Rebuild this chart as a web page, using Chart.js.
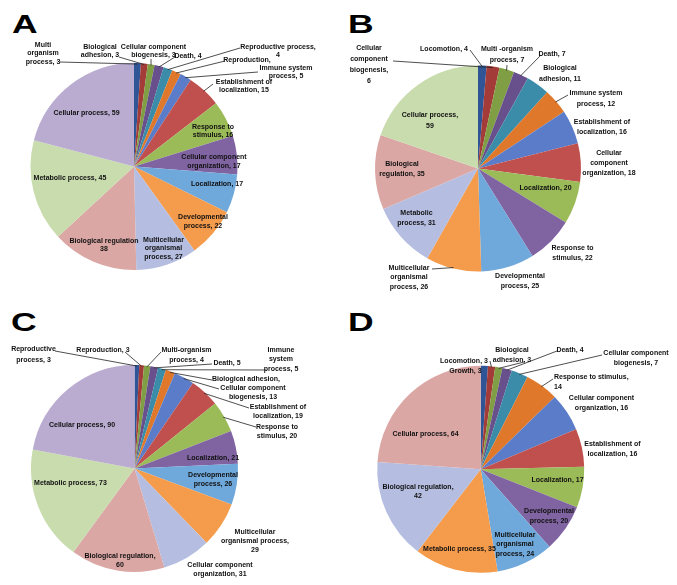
<!DOCTYPE html>
<html>
<head>
<meta charset="utf-8">
<script src="https://cdn.jsdelivr.net/npm/chart.js@4.4.0/dist/chart.umd.min.js"></script>
<style>
  body { margin: 0; background: #fff; }
  #wrap { position: relative; width: 677px; height: 585px; overflow: hidden; }
  canvas { position: absolute; }
  .tag { position: absolute; font: bold 25px "Liberation Sans", Arial, sans-serif; line-height: 25px;
         transform-origin: 0 0; transform: scaleX(1.42); color: #000; }
</style>
</head>
<body>
<div id="wrap">
  <div class="tag" style="left:12px;top:11.7px">A</div>
  <div class="tag" style="left:348px;top:11.7px">B</div>
  <div class="tag" style="left:11px;top:309.7px">C</div>
  <div class="tag" style="left:348px;top:309.7px">D</div>
  <canvas id="pieA" width="340" height="292" style="left:0;top:0"></canvas>
  <canvas id="pieB" width="337" height="292" style="left:340px;top:0"></canvas>
  <canvas id="pieC" width="340" height="293" style="left:0;top:292px"></canvas>
  <canvas id="pieD" width="337" height="293" style="left:340px;top:292px"></canvas>
</div>
<script>
// data
const catsA = ['Multi organism process', 'Biological adhesion', 'Cellular component biogenesis', 'Death',
  'Reproductive process', 'Reproduction', 'Immune system process', 'Establishment of localization',
  'Response to stimulus', 'Cellular component organization', 'Localization', 'Developmental process',
  'Multicellular organismal process', 'Biological regulation', 'Metabolic process', 'Cellular process'];
const valsA = [3, 3, 3, 4, 4, 4, 5, 15, 16, 17, 17, 22, 27, 38, 45, 59];

const catsB = ['Locomotion', 'Cellular component biogenesis', 'Multi-organism process', 'Death',
  'Biological adhesion', 'Immune system process', 'Establishment of localization',
  'Cellular component organization', 'Localization', 'Response to stimulus', 'Developmental process',
  'Multicellular organismal process', 'Metabolic process', 'Biological regulation', 'Cellular process'];
const valsB = [4, 6, 7, 7, 11, 12, 16, 18, 20, 22, 25, 26, 31, 35, 59];

const catsC = ['Reproductive process', 'Reproduction', 'Multi-organism process', 'Death',
  'Immune system process', 'Biological adhesion', 'Cellular component biogenesis',
  'Establishment of localization', 'Response to stimulus', 'Localization', 'Developmental process',
  'Multicellular organismal process', 'Cellular component organization', 'Biological regulation',
  'Metabolic process', 'Cellular process'];
const valsC = [3, 3, 4, 5, 5, 6, 13, 19, 20, 21, 26, 29, 31, 60, 73, 90];

const catsD = ['Growth', 'Locomotion', 'Biological adhesion', 'Death', 'Cellular component biogenesis',
  'Response to stimulus', 'Cellular component organization', 'Establishment of localization',
  'Localization', 'Developmental process', 'Multicellular organismal process', 'Metabolic process',
  'Biological regulation', 'Cellular process'];
const valsD = [3, 3, 3, 4, 7, 14, 16, 16, 17, 20, 24, 35, 42, 64];

// slice colours (Office palette: darker, normal, lighter)
const colors = ['#2F5597', '#A33B38', '#809F44', '#67508C', '#3A8CA8', '#E0782B',
  '#5B7CC9', '#C0504D', '#9BBB59', '#8064A2', '#6FA8DA', '#F59B4C',
  '#B5BEE1', '#DBA7A5', '#C9DCAE', '#B9ACD0'];

// label text and placement (page coords), {v} = slice value, | = line break
const layoutA = [
  { t: 'Multi|organism|process, {v}', x: 43, y: 45, lx: 60, ly: 62 },
  { t: 'Biological|adhesion, {v}', x: 100, y: 46.7, lx: 119, ly: 57 },
  { t: 'Cellular component|biogenesis, {v}', x: 153.5, y: 46.7, lx: 151, ly: 59 },
  { t: 'Death, {v}', x: 188, y: 56, lx: 175, ly: 57 },
  { t: 'Reproductive process,|{v}', x: 278, y: 46.7, lx: 240, ly: 48 },
  { t: 'Reproduction,', x: 247, y: 60, lx: 225, ly: 61 },
  { t: 'Immune system|process, {v}', x: 286, y: 67.7, lx: 258, ly: 72 },
  { t: 'Establishment of|localization, {v}', x: 244, y: 81.7, lx: 213, ly: 84 },
  { t: 'Response to|stimulus, {v}', x: 213, y: 126.7 },
  { t: 'Cellular component|organization, {v}', x: 214, y: 157.3 },
  { t: 'Localization, {v}', x: 217, y: 184.3 },
  { t: 'Developmental|process, {v}', x: 203, y: 217.3 },
  { t: 'Multicellular|organismal|process, {v}', x: 163.5, y: 240 },
  { t: 'Biological regulation|{v}', x: 104, y: 241 },
  { t: 'Metabolic process, {v}', x: 70, y: 177.7 },
  { t: 'Cellular process, {v}', x: 86.5, y: 113.3 }
];

const layoutB = [
  { t: 'Locomotion, {v}', x: 444, y: 49.3, lx: 470, ly: 50 },
  { t: 'Cellular|component|biogenesis,|{v}', x: 369, y: 48.3, lh: 11, lx: 393, ly: 61 },
  { t: 'Multi -organism|process, {v}', x: 507, y: 49.3, lh: 10.7, lx: 507, ly: 65 },
  { t: 'Death, {v}', x: 552, y: 54.3, lx: 541, ly: 55 },
  { t: 'Biological|adhesion, {v}', x: 560, y: 68.3, lh: 11 },
  { t: 'Immune system|process, {v}', x: 596, y: 93.3, lh: 10.7, lx: 568, ly: 95 },
  { t: 'Establishment of|localization, {v}', x: 602, y: 121.7, lh: 10.6 },
  { t: 'Cellular|component|organization, {v}', x: 609, y: 153.3 },
  { t: 'Localization, {v}', x: 545.5, y: 187.7 },
  { t: 'Response to|stimulus, {v}', x: 572.5, y: 248.3 },
  { t: 'Developmental|process, {v}', x: 520, y: 276 },
  { t: 'Multicellular|organismal|process, {v}', x: 409, y: 267.7, lh: 9.8, lx: 432, ly: 269 },
  { t: 'Metabolic|process, {v}', x: 416.5, y: 213.3 },
  { t: 'Biological|regulation, {v}', x: 402, y: 164.3 },
  { t: 'Cellular process,|{v}', x: 430, y: 115, lh: 10.7 }
];

const layoutC = [
  { t: 'Reproductive|process, {v}', x: 33.5, y: 349.3, lh: 10.7, lx: 55, ly: 351 },
  { t: 'Reproduction, {v}', x: 103, y: 350, lx: 125, ly: 352 },
  { t: 'Multi-organism|process, {v}', x: 186.5, y: 350, lh: 10, lx: 161, ly: 352 },
  { t: 'Death, {v}', x: 227, y: 362.7, lx: 212, ly: 364 },
  { t: 'Immune|system|process, {v}', x: 281, y: 350, lh: 9.5, lx: 266, ly: 370 },
  { t: 'Biological adhesion,', x: 246, y: 379, lx: 212, ly: 380 },
  { t: 'Cellular component|biogenesis, {v}', x: 253, y: 388.3, lh: 8.4, lx: 219, ly: 389 },
  { t: 'Establishment of|localization, {v}', x: 278, y: 406.7, lx: 249, ly: 408 },
  { t: 'Response to|stimulus, {v}', x: 277, y: 426.7, lh: 9, lx: 256, ly: 427 },
  { t: 'Localization, {v}', x: 213, y: 457.7 },
  { t: 'Developmental|process, {v}', x: 213, y: 475 },
  { t: 'Multicellular|organismal process,|{v}', x: 255, y: 531.7, lh: 9.2 },
  { t: 'Cellular component|organization, {v}', x: 220, y: 565 },
  { t: 'Biological regulation,|{v}', x: 120, y: 555.7 },
  { t: 'Metabolic process, {v}', x: 70.5, y: 483.3 },
  { t: 'Cellular process, {v}', x: 82, y: 425 }
];

const layoutD = [
  { t: 'Growth, {v}', x: 465.5, y: 370.7 },
  { t: 'Locomotion, {v}', x: 464, y: 360.7, lx: 490, ly: 361 },
  { t: 'Biological|adhesion, {v}', x: 512, y: 350, lh: 10, lx: 524, ly: 362 },
  { t: 'Death, {v}', x: 570, y: 350, lx: 557, ly: 351 },
  { t: 'Cellular component|biogenesis, {v}', x: 636, y: 353.3, lh: 10, lx: 602, ly: 355 },
  { t: 'Response to stimulus,|{v}', x: 554, y: 377.3, lh: 10, al: 'left', lx: 553, ly: 379 },
  { t: 'Cellular component|organization, {v}', x: 601.5, y: 398.3, lh: 10 },
  { t: 'Establishment of|localization, {v}', x: 612.5, y: 444, lh: 10 },
  { t: 'Localization, {v}', x: 557.5, y: 480 },
  { t: 'Developmental|process, {v}', x: 549, y: 511, lh: 9.7 },
  { t: 'Multicellular|organismal|process, {v}', x: 515, y: 535, lh: 9.5 },
  { t: 'Metabolic process, {v}', x: 459.5, y: 549.3 },
  { t: 'Biological regulation,|{v}', x: 418, y: 486.7 },
  { t: 'Cellular process, {v}', x: 425.5, y: 434.5 }
];

// draws the slice labels and leader lines
function labelPlugin(layout, ox, oy, lh) {
  return {
    id: 'pieLabels',
    afterDatasetsDraw(chart) {
      const ctx = chart.ctx;
      const arcs = chart.getDatasetMeta(0).data;
      const vals = chart.data.datasets[0].data;
      ctx.save();
      ctx.font = 'bold 7px "Liberation Sans", Arial, sans-serif';
      ctx.fillStyle = '#111';
      ctx.strokeStyle = '#222';
      ctx.lineWidth = 0.8;
      ctx.textBaseline = 'middle';
      layout.forEach((l, i) => {
        const p = arcs[i].getProps(['x', 'y', 'startAngle', 'endAngle', 'outerRadius'], true);
        if (l.lx !== undefined) {
          const mid = (p.startAngle + p.endAngle) / 2;
          const r = p.outerRadius - 1;
          ctx.beginPath();
          ctx.moveTo(l.lx - ox, l.ly - oy);
          ctx.lineTo(p.x + Math.cos(mid) * r, p.y + Math.sin(mid) * r);
          ctx.stroke();
        }
        ctx.textAlign = l.al || 'center';
        const lines = l.t.replace('{v}', vals[i]).split('|');
        lines.forEach((s, k) => {
          ctx.fillText(s, l.x - ox, l.y - oy + k * (l.lh || lh));
        });
      });
      ctx.restore();
    }
  };
}

function makePie(id, cats, vals, layout, ox, oy, lh, padding) {
  const ctx = document.getElementById(id).getContext('2d');
  return new Chart(ctx, {
    type: 'pie',
    data: {
      labels: cats,
      datasets: [{
        data: vals,
        backgroundColor: colors.slice(0, vals.length),
        borderWidth: 0,
        hoverOffset: 0
      }]
    },
    options: {
      responsive: false,
      animation: false,
      events: [],
      layout: { padding: padding },
      plugins: {
        legend: { display: false },
        tooltip: { enabled: false }
      }
    },
    plugins: [labelPlugin(layout, ox, oy, lh)]
  });
}

makePie('pieA', catsA, valsA, layoutA, 0, 0, 8.3, { left: 30.5, right: 102.5, top: 63, bottom: 22 });
makePie('pieB', catsB, valsB, layoutB, 340, 0, 10, { left: 35, right: 96, top: 65.5, bottom: 20.5 });
makePie('pieC', catsC, valsC, layoutC, 0, 292, 9.3, { left: 31, right: 102, top: 73, bottom: 13 });
makePie('pieD', catsD, valsD, layoutD, 340, 292, 9.6, { left: 37.2, right: 92.8, top: 73.8, bottom: 12.2 });
</script>
</body>
</html>
